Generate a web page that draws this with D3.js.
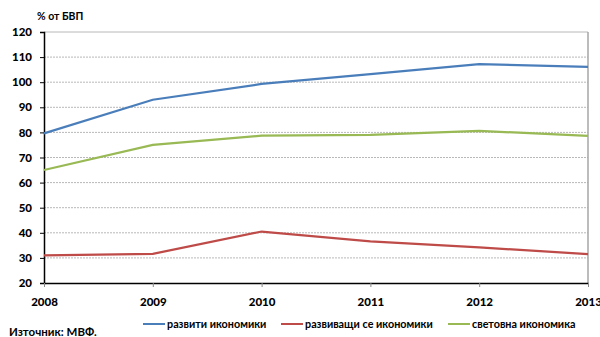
<!DOCTYPE html>
<html><head><meta charset="utf-8">
<script src="https://cdn.jsdelivr.net/npm/d3@7"></script>
<style>body{margin:0;background:#fff;} text{font-family:Lato,"Open Sans",sans-serif;font-weight:bold;fill:#000;}</style>
</head><body><svg id="c" width="600" height="337"></svg>
<script>
const years = [2008, 2009, 2010, 2011, 2012, 2013];
const developed = [79.6, 93.0, 99.3, 103.2, 107.2, 106.1];
const developing = [31.0, 31.6, 40.5, 36.6, 34.2, 31.5];
const world = [65.0, 75.0, 78.7, 79.0, 80.6, 78.6];
const yTicks = [20, 30, 40, 50, 60, 70, 80, 90, 100, 110, 120];
const seriesNames = ["развити икономики", "развиващи се икономики", "световна икономика"];
const colors = ["#4a7ebb", "#be4b48", "#98b954"];

const svg = d3.select("#c");
const x = d3.scaleLinear().domain([2008, 2013]).range([44, 588]);
const y = d3.scaleLinear().domain([20, 120]).range([283, 32]);

// horizontal gridlines
svg.append("g").selectAll("line").data(yTicks.slice(1)).join("line")
  .attr("x1", x(2008)).attr("x2", x(2013))
  .attr("y1", d => y(d)).attr("y2", d => y(d))
  .attr("stroke", "#b8b8b8").attr("stroke-width", 1)
  .attr("stroke-dasharray", d => d === 120 ? null : "2,1");

// right frame edge
svg.append("line").attr("x1", x(2013)).attr("x2", x(2013)).attr("y1", y(120)).attr("y2", y(20))
  .attr("stroke", "#a6a6a6").attr("stroke-width", 1.5);

// y axis
const yAxis = d3.axisLeft(y).tickValues(yTicks).tickSize(4).tickPadding(8);
const gy = svg.append("g").attr("transform", `translate(${x(2008)},0)`).call(yAxis);
gy.select(".domain").attr("stroke", "#000").attr("stroke-width", 1.5);
gy.selectAll(".tick line").attr("stroke", "#000");
gy.selectAll("text").attr("font-size", 11.5).style("font-family", "Lato").style("font-weight", "900");

// x axis
const xAxis = d3.axisBottom(x).tickValues(years).tickFormat(d3.format("d")).tickSize(4).tickPadding(11).tickSizeOuter(0);
const gx = svg.append("g").attr("transform", `translate(0,${y(20)})`).call(xAxis);
gx.select(".domain").attr("stroke", "#000").attr("stroke-width", 1.5);
gx.selectAll(".tick line").attr("stroke", "#888");
gx.selectAll("text").attr("font-size", 11.5).style("font-family", "Lato").style("font-weight", "900");

// series lines
const line = d3.line().x((d, i) => x(years[i])).y(d => y(d));
[developed, developing, world].forEach((s, k) => {
  svg.append("path").datum(s).attr("d", line)
    .attr("fill", "none").attr("stroke", colors[k]).attr("stroke-width", 2.2);
});

// unit label
svg.append("text").attr("x", 37).attr("y", 20).attr("font-size", 10.5).text("% от БВП");

// legend
const legendX = [143, 281, 448];
seriesNames.forEach((n, k) => {
  svg.append("line").attr("x1", legendX[k]).attr("x2", legendX[k] + 22)
    .attr("y1", 324).attr("y2", 324).attr("stroke", colors[k]).attr("stroke-width", 2);
  svg.append("text").attr("x", legendX[k] + 24).attr("y", 328).attr("font-size", 10.8).text(n);
});

// source note
svg.append("text").attr("x", 9).attr("y", 336).attr("font-size", 11.5).text("Източник: МВФ.");
</script></body></html>
